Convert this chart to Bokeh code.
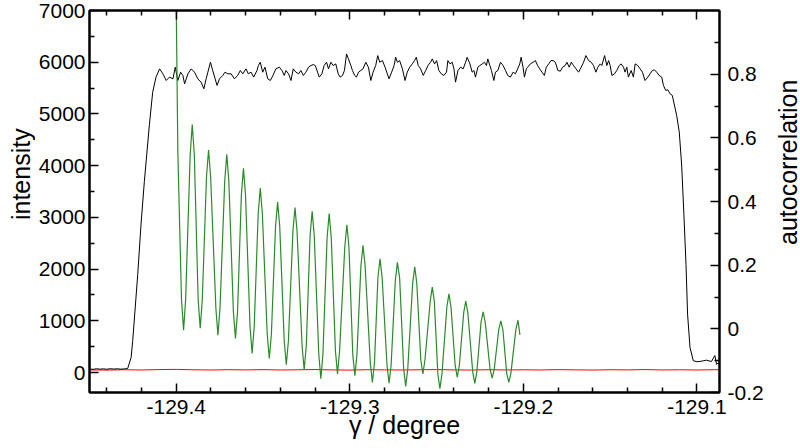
import math
from bokeh.plotting import figure
from bokeh.layouts import row
from bokeh.models import Range1d, LinearAxis, FixedTicker, CustomJSTickFormatter
from bokeh.core.properties import value
from bokeh.embed import file_html
from bokeh.resources import INLINE

# ---- data ----
int_x = [-129.4500, -129.4480, -129.4460, -129.4440, -129.4420, -129.4400, -129.4380, -129.4360,
         -129.4340, -129.4320, -129.4300, -129.4280, -129.4260, -129.4251, -129.4222, -129.4203,
         -129.4184, -129.4155, -129.4136, -129.4117,
         -129.4096, -129.4077, -129.4058, -129.4039, -129.4019, -129.4006, -129.3991, -129.3975,
         -129.3962, -129.3952, -129.3933, -129.3914, -129.3895, -129.3876, -129.3857, -129.3841,
         -129.3828, -129.3818, -129.3803, -129.3790, -129.3776, -129.3765, -129.3751, -129.3732,
         -129.3719, -129.3703, -129.3684, -129.3665, -129.3646, -129.3631, -129.3617, -129.3598,
         -129.3585, -129.3569, -129.3554, -129.3535, -129.3527, -129.3516, -129.3502, -129.3489,
         -129.3473, -129.3458, -129.3443, -129.3426, -129.3406, -129.3391, -129.3378,
         -129.3368, -129.3353, -129.3339, -129.3326, -129.3311, -129.3295, -129.3282, -129.3268,
         -129.3253, -129.3238, -129.3224, -129.3211, -129.3199, -129.3186, -129.3176, -129.3161,
         -129.3148, -129.3134, -129.3123, -129.3109, -129.3096, -129.3081, -129.3067, -129.3056,
         -129.3042, -129.3031, -129.3019, -129.3008, -129.2994, -129.2985, -129.2972, -129.2962,
         -129.2950, -129.2937, -129.2924, -129.2908, -129.2893, -129.2879, -129.2866, -129.2851,
         -129.2839, -129.2828, -129.2812, -129.2797, -129.2784, -129.2774, -129.2759, -129.2745,
         -129.2736, -129.2726, -129.2713, -129.2697, -129.2682, -129.2669, -129.2655, -129.2640,
         -129.2627, -129.2617, -129.2606,
         -129.2592, -129.2577, -129.2563, -129.2550, -129.2535, -129.2525, -129.2512, -129.2500,
         -129.2487, -129.2473, -129.2458, -129.2443, -129.2435, -129.2423, -129.2410, -129.2400,
         -129.2391, -129.2377, -129.2362, -129.2347, -129.2333, -129.2324, -129.2308, -129.2295,
         -129.2285, -129.2276, -129.2262, -129.2251, -129.2237, -129.2224, -129.2213, -129.2205,
         -129.2193, -129.2184, -129.2170, -129.2161, -129.2147, -129.2132, -129.2117, -129.2103,
         -129.2090, -129.2075, -129.2059, -129.2046, -129.2033, -129.2021, -129.2013, -129.2002,
         -129.1994, -129.1983, -129.1975, -129.1960, -129.1944, -129.1931, -129.1918, -129.1906,
         -129.1893, -129.1879, -129.1868, -129.1854, -129.1841, -129.1829, -129.1816,
         -129.1801, -129.1787, -129.1774, -129.1759, -129.1749, -129.1736, -129.1724, -129.1711,
         -129.1697, -129.1682, -129.1667, -129.1653, -129.1640, -129.1624, -129.1609, -129.1596,
         -129.1582, -129.1571, -129.1557, -129.1548, -129.1532, -129.1519, -129.1509, -129.1500,
         -129.1490, -129.1475, -129.1462, -129.1448, -129.1437, -129.1423, -129.1414, -129.1404,
         -129.1395, -129.1379, -129.1366, -129.1356, -129.1341, -129.1327, -129.1314, -129.1299,
         -129.1283, -129.1270, -129.1257, -129.1245, -129.1232, -129.1218, -129.1203, -129.1193,
         -129.1180, -129.1168, -129.1155, -129.1142,
         -129.1117, -129.1102, -129.1088, -129.1075, -129.1063, -129.1054, -129.1040, -129.1021,
         -129.1000, -129.0983, -129.0960, -129.0944, -129.0930, -129.0916, -129.0897, -129.0887,
         -129.0870]
int_y = [70, 62, 74, 66, 72, 64, 75, 68,
         73, 66, 71, 78, 295, 615, 1900, 2870,
         3690, 4790, 5420, 5710,
         5872, 5776, 5647, 5712, 5679, 5904, 5647, 5808,
         5744, 5583, 5776, 5872, 5808, 5679, 5615, 5487,
         5679, 5808, 6000, 5840, 5679, 5551, 5679, 5744,
         5808, 5776, 5776, 5679, 5744, 5840, 5776, 5872,
         5776, 5808, 5712, 5840, 5936, 6000, 5808, 5904,
         5679, 5647, 5744, 5872, 5904, 5840, 5744,
         5840, 5776, 5647, 5872, 5808, 5776, 5840, 5744,
         5808, 5904, 5936, 5955, 5936, 5808, 5712, 5776,
         5936, 6000, 5872, 6000, 5936, 5968, 5776, 5712,
         5744, 5840, 6160, 6064, 5936, 5840, 5744, 5712,
         5808, 5840, 5872, 6000, 5904, 5647, 5808, 5936,
         6128, 6000, 6032, 5904, 5776, 5679, 5808, 5936,
         6096, 6000, 6032, 5872, 5647, 5808, 5904, 5968,
         6032, 6096, 5936,
         5872, 5744, 5840, 5936, 6000, 6064, 5968, 6032,
         5840, 5776, 5744, 5808, 6032, 5968, 6000, 5872,
         5615, 5840, 5904, 5872, 6000, 6096, 5968, 5808,
         5840, 5712, 5904, 5936, 5968, 6000, 5936, 6064,
         5936, 5840, 5647, 5808, 5840, 6000, 5936, 5840,
         5744, 5712, 5808, 5776, 5872, 5968, 6096, 5904,
         5712, 5872, 5904, 5968, 6000, 6032, 5936, 5872,
         5808, 5744, 5904, 5968, 6032, 6032, 6000,
         5840, 5827, 5904, 5936, 6000, 5904, 6000, 5936,
         5872, 5808, 5904, 6000, 6128, 6032, 6000, 5936,
         5808, 5904, 5968, 5936, 6128, 5936, 6032, 5936,
         5744, 5776, 5840, 5936, 5968, 5904, 5808, 5904,
         5712, 5840, 5712, 5968, 5936, 5872, 5808, 5647,
         5712, 5776, 5840, 5853, 5808, 5744, 5712, 5551,
         5455, 5468, 5391, 5359,
         4975, 4654, 4013, 3051, 2090, 1129, 487, 230,
         210, 215, 230, 240, 225, 215, 330, 160,
         200]

bg_x = [-129.45, -129.44, -129.43, -129.42, -129.41, -129.40, -129.39, -129.38, -129.37, -129.36,
        -129.35, -129.34, -129.33, -129.32, -129.31, -129.30, -129.29, -129.28, -129.27, -129.26,
        -129.25, -129.24, -129.23, -129.22, -129.21, -129.20, -129.19, -129.18, -129.17, -129.16,
        -129.15, -129.14, -129.13, -129.12, -129.11, -129.10, -129.09, -129.08]
bg_y = [52, 48, 55, 50, 58, 62, 54, 50, 56, 52, 57, 50, 54, 59, 52, 48, 56, 53, 50, 55,
        58, 52, 49, 56, 51, 54, 50, 57, 53, 49, 55, 52, 58, 51, 54, 50, 56, 52]

ac_x = [-129.4000, -129.3991,
        -129.3970, -129.3958, -129.3946,
        -129.3920, -129.3908, -129.3896,
        -129.3874, -129.3862, -129.3850,
        -129.3826, -129.3814, -129.3802,
        -129.3772, -129.3760, -129.3748,
        -129.3721, -129.3709, -129.3697,
        -129.3671, -129.3659, -129.3647,
        -129.3625, -129.3613, -129.3601,
        -129.3575, -129.3563, -129.3551,
        -129.3528, -129.3516, -129.3504,
        -129.3476, -129.3464, -129.3452,
        -129.3428, -129.3416, -129.3404,
        -129.3378, -129.3366, -129.3354,
        -129.3328, -129.3316, -129.3304,
        -129.3275, -129.3263, -129.3251,
        -129.3229, -129.3217, -129.3205,
        -129.3179, -129.3167, -129.3155,
        -129.3131, -129.3119, -129.3107,
        -129.3083, -129.3071, -129.3059,
        -129.3029, -129.3017, -129.3005,
        -129.2983, -129.2971, -129.2959,
        -129.2936, -129.2924, -129.2912,
        -129.2882, -129.2870, -129.2858,
        -129.2838, -129.2826, -129.2814,
        -129.2786, -129.2774, -129.2762,
        -129.2738, -129.2726, -129.2713,
        -129.2690, -129.2678, -129.2666,
        -129.2638, -129.2626, -129.2614,
        -129.2591, -129.2579, -129.2567,
        -129.2537, -129.2525, -129.2513,
        -129.2493, -129.2481, -129.2469,
        -129.2441, -129.2429, -129.2417,
        -129.2393, -129.2381, -129.2369,
        -129.2344, -129.2332, -129.2320,
        -129.2292, -129.2280, -129.2268,
        -129.2244, -129.2232, -129.2220,
        -129.2192, -129.2180, -129.2168,
        -129.2142, -129.2130, -129.2118,
        -129.2096, -129.2084, -129.2072,
        -129.2043, -129.2031, -129.2020]
ac_v = [1.000, 0.556,
        0.093, -0.004, 0.093,
        0.546, 0.642, 0.546,
        0.092, 0.002, 0.092,
        0.477, 0.562, 0.477,
        0.066, -0.020, 0.066,
        0.463, 0.548, 0.463,
        0.054, -0.030, 0.054,
        0.420, 0.504, 0.420,
        0.006, -0.077, 0.006,
        0.362, 0.442, 0.362,
        -0.017, -0.093, -0.017,
        0.323, 0.398, 0.323,
        -0.038, -0.113, -0.038,
        0.306, 0.381, 0.306,
        -0.054, -0.129, -0.054,
        0.293, 0.369, 0.293,
        -0.079, -0.157, -0.079,
        0.286, 0.362, 0.286,
        -0.069, -0.142, -0.069,
        0.257, 0.327, 0.257,
        -0.081, -0.147, -0.081,
        0.199, 0.262, 0.199,
        -0.107, -0.168, -0.107,
        0.162, 0.220, 0.162,
        -0.113, -0.171, -0.113,
        0.151, 0.209, 0.160,
        -0.124, -0.181, -0.124,
        0.142, 0.195, 0.142,
        -0.097, -0.142, -0.097,
        0.086, 0.131, 0.086,
        -0.141, -0.188, -0.141,
        0.068, 0.110, 0.068,
        -0.115, -0.152, -0.115,
        0.050, 0.0875, 0.050,
        -0.135, -0.171, -0.135,
        0.021, 0.053, 0.021,
        -0.127, -0.155, -0.127,
        -0.003, 0.025, -0.003,
        -0.140, -0.168, -0.140,
        -0.001, 0.027, -0.019]

x_major = [-129.4, -129.3, -129.2, -129.1]
x_minor = [-129.44, -129.42, -129.38, -129.36, -129.34, -129.32, -129.28, -129.26, -129.24,
           -129.22, -129.18, -129.16, -129.14, -129.12]
y_major = [0, 1000, 2000, 3000, 4000, 5000, 6000, 7000]
y_minor = [500, 1500, 2500, 3500, 4500, 5500, 6500]
ac_major = [-0.2, 0.0, 0.2, 0.4, 0.6, 0.8]
ac_minor = [-0.1, 0.1, 0.3, 0.5, 0.7, 0.9]

X_LO, X_HI = -129.45, -129.087
FONT = "Liberation Sans"
TICK_FS = "21px"
LAB_FS = "25px"
H = 448
LEFT_W, RIGHT_W = 35, 38

p = figure(frame_width=630, frame_height=382, output_backend="svg", toolbar_location=None,
           x_range=Range1d(X_LO, X_HI), y_range=Range1d(-385, 7000),
           min_border_left=88 - LEFT_W, min_border_right=82 - RIGHT_W,
           min_border_top=10, min_border_bottom=56)
p.extra_y_ranges = {"ac": Range1d(-0.2, 1.0)}
p.xgrid.grid_line_color = None
p.ygrid.grid_line_color = None
p.outline_line_color = "black"
p.outline_line_width = 2
p.background_fill_color = "white"
p.border_fill_color = "white"


def style_axis(ax, label, ticks, minor, fmt):
    ax.ticker = FixedTicker(ticks=ticks, minor_ticks=minor)
    ax.formatter = CustomJSTickFormatter(code=fmt)
    ax.axis_label = label
    ax.axis_label_text_font = FONT
    ax.axis_label_text_font_size = LAB_FS
    ax.axis_label_text_font_style = "normal"
    ax.axis_label_text_color = "black"
    ax.axis_label_standoff = 0
    ax.major_label_text_font = FONT
    ax.major_label_text_font_size = TICK_FS
    ax.major_label_text_color = "black"
    ax.major_label_standoff = 6
    ax.axis_line_color = "black"
    ax.axis_line_width = 2
    ax.major_tick_in = 9
    ax.major_tick_out = 0
    ax.minor_tick_in = 5
    ax.minor_tick_out = 0
    ax.major_tick_line_width = 1.5
    ax.minor_tick_line_width = 1.5
    ax.major_tick_line_color = "black"
    ax.minor_tick_line_color = "black"


style_axis(p.xaxis[0], "γ / degree", x_major, x_minor, "return tick.toFixed(1);")
p.xaxis[0].major_label_standoff = 7
p.xaxis[0].axis_label_standoff = -6
style_axis(p.yaxis[0], None, y_major, y_minor, "return tick.toFixed(0);")
p.yaxis[0].major_label_standoff = 4

ax_r = LinearAxis(y_range_name="ac")
style_axis(ax_r, None, ac_major, ac_minor,
           "return Math.abs(tick) < 1e-9 ? '0' : tick.toFixed(1);")
ax_r.major_label_standoff = 8
p.add_layout(ax_r, "right")

ax_t = LinearAxis()
style_axis(ax_t, None, x_major, x_minor, "return '';")
ax_t.major_label_text_font_size = "0px"
ax_t.major_label_standoff = 0
p.add_layout(ax_t, "above")

p.line(bg_x, bg_y, line_color="#ff0000", line_width=1)
p.line(int_x, int_y, line_color="black", line_width=1)
p.line(ac_x, ac_v, y_range_name="ac", line_color="#2a8a2a", line_width=1.2)


def title_strip(width, text, xf, yf):
    s = figure(width=width, height=H, output_backend="svg", toolbar_location=None,
               x_range=Range1d(0, 1), y_range=Range1d(0, 1), x_axis_type=None,
               y_axis_type=None, min_border=0)
    s.outline_line_color = None
    s.xgrid.grid_line_color = None
    s.ygrid.grid_line_color = None
    s.text(x=[xf], y=[yf], text=[text], angle=math.pi / 2, text_align="center",
           text_baseline="middle", text_font=value(FONT), text_font_size=value(LAB_FS),
           text_color="black")
    return s


left_strip = title_strip(LEFT_W, "intensity", 20 / LEFT_W, 1 - 192 / H)
right_strip = title_strip(RIGHT_W, "autocorrelation", 21 / RIGHT_W, 1 - 178 / H)

layout = row(left_strip, p, right_strip, spacing=0)
open("out.html", "w").write(file_html(layout, INLINE))
